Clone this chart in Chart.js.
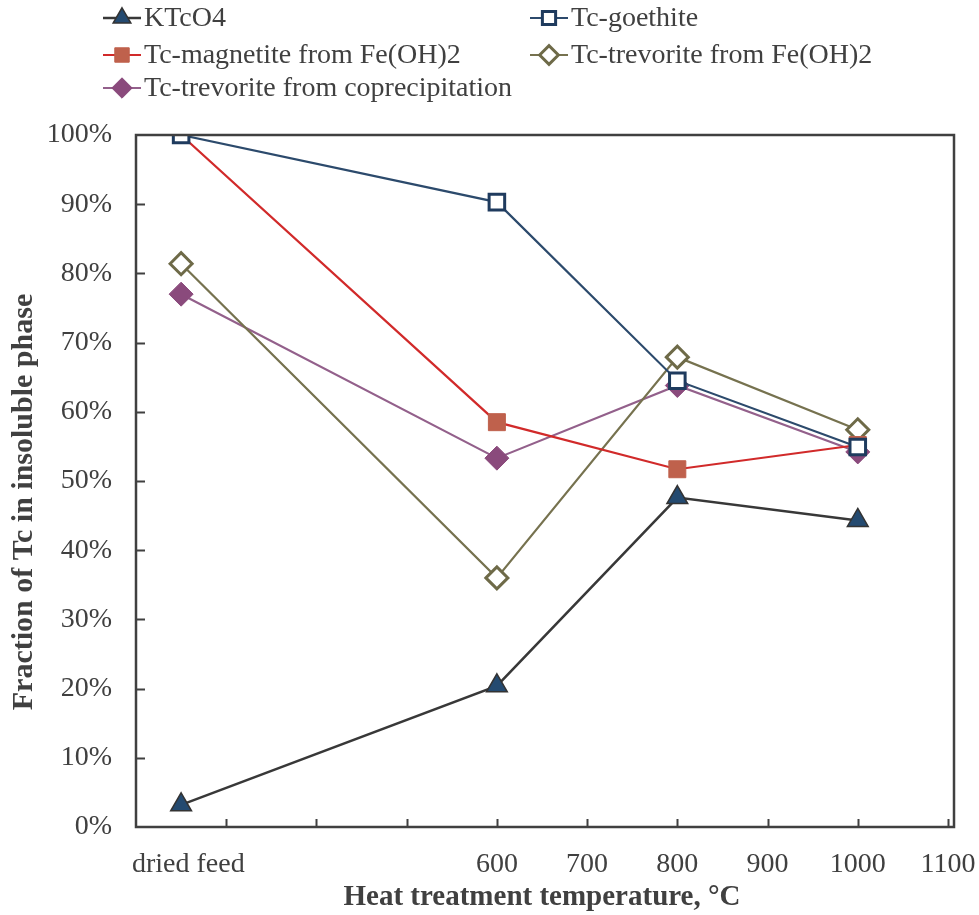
<!DOCTYPE html>
<html>
<head>
<meta charset="utf-8">
<script src="https://cdn.jsdelivr.net/npm/chart.js@4.4.1/dist/chart.umd.min.js"></script>
<style>
	html, body { margin: 0; padding: 0; background: #fff; }
	#wrap { width: 979px; height: 915px; }
</style>
</head>
<body>
<div id="wrap"><canvas id="myChart"></canvas></div>
<script>
// temperatures, 250 stands for the "dried feed" sample
const temps = [250, 600, 800, 1000];
const ktco4 = [3.2, 20.4, 47.6, 44.3];
const goethite = [100, 90.3, 64.5, 54.9];
const magnetite = [100, 58.5, 51.7, 55.2];
const trevoriteFeOH2 = [81.4, 36.0, 67.9, 57.4];
const trevoriteCopre = [77.0, 53.3, 63.8, 54.2];

const seriesNames = ["KTcO4", "Tc-goethite", "Tc-magnetite from Fe(OH)2",
	"Tc-trevorite from Fe(OH)2", "Tc-trevorite from coprecipitation"];

const xLabelValues = [258, 600, 700, 800, 900, 1000, 1100];
const xLabelText = ["dried feed", "600", "700", "800", "900", "1000", "1100"];
const xTickMarks = [300, 400, 500, 600, 700, 800, 900, 1000, 1100];
const yTicks = [0, 10, 20, 30, 40, 50, 60, 70, 80, 90, 100];
const yTitle = "Fraction of Tc in insoluble phase";

const textColor = "#404040";
const axisColor = "#404040";
const serif = "'Liberation Serif', 'Times New Roman', serif";

function pts(values) {
	return values.map((v, i) => ({ x: temps[i], y: v }));
}

// frame around plot, inward tick marks and the y title
const framePlugin = {
	id: "frame",
	afterDraw(chart) {
		const ctx = chart.ctx;
		const a = chart.chartArea;
		const xs = chart.scales.x;
		const ys = chart.scales.y;
		ctx.save();
		ctx.strokeStyle = axisColor;
		ctx.lineWidth = 2.5;
		ctx.strokeRect(a.left, a.top, a.right - a.left + 6, a.bottom - a.top);
		ctx.lineWidth = 2;
		ctx.beginPath();
		xTickMarks.forEach(t => {
			const px = Math.round(xs.getPixelForValue(t)) + 0.5;
			ctx.moveTo(px, a.bottom);
			ctx.lineTo(px, a.bottom - 8);
		});
		yTicks.forEach(t => {
			if (t === 0 || t === 100) return;
			const py = Math.round(ys.getPixelForValue(t)) + 0.5;
			ctx.moveTo(a.left, py);
			ctx.lineTo(a.left + 9, py);
		});
		ctx.stroke();

		ctx.translate(24, (a.top + a.bottom) / 2 + 21);
		ctx.rotate(-Math.PI / 2);
		ctx.fillStyle = textColor;
		ctx.font = "bold 30px " + serif;
		ctx.textAlign = "center";
		ctx.textBaseline = "middle";
		ctx.fillText(yTitle, 0, 0);
		ctx.restore();
	}
};

// two column legend at top
const legendPlugin = {
	id: "gridLegend",
	afterDraw(chart) {
		const ctx = chart.ctx;
		const cols = [103, 530];
		const rows = [18, 55, 88];
		ctx.save();
		chart.data.datasets.forEach((ds, i) => {
			const x = cols[i % 2];
			const y = rows[Math.floor(i / 2)];
			ctx.strokeStyle = ds.borderColor;
			ctx.lineWidth = ds.borderWidth;
			ctx.beginPath();
			ctx.moveTo(x, y);
			ctx.lineTo(x + 38, y);
			ctx.stroke();
			ctx.fillStyle = ds.pointBackgroundColor;
			ctx.strokeStyle = ds.pointBorderColor;
			ctx.lineWidth = ds.pointBorderWidth;
			Chart.helpers.drawPoint(ctx, {
				pointStyle: ds.pointStyle,
				radius: ds.pointRadius * 0.85,
				borderWidth: ds.pointBorderWidth
			}, x + 19, y);
			ctx.fillStyle = textColor;
			ctx.font = "28px " + serif;
			ctx.textBaseline = "middle";
			ctx.textAlign = "left";
			ctx.fillText(ds.label, x + 41, y + 1);
		});
		ctx.restore();
	}
};

new Chart("myChart", {
	type: "line",
	data: {
		datasets: [{
			label: seriesNames[0],
			data: pts(ktco4),
			borderColor: "#383838",
			borderWidth: 2.5,
			pointStyle: "triangle",
			pointRadius: 12,
			pointBackgroundColor: "#244a70",
			pointBorderColor: "#333333",
			pointBorderWidth: 1.5
		}, {
			label: seriesNames[1],
			data: pts(goethite),
			borderColor: "#2c4a6c",
			borderWidth: 2.2,
			pointStyle: "rect",
			pointRadius: 11,
			pointBackgroundColor: "#ffffff",
			pointBorderColor: "#1f3b5e",
			pointBorderWidth: 3
		}, {
			label: seriesNames[2],
			data: pts(magnetite),
			borderColor: "#d12a2a",
			borderWidth: 2.2,
			pointStyle: "rect",
			pointRadius: 12,
			pointBackgroundColor: "#bf614c",
			pointBorderColor: "#bf614c",
			pointBorderWidth: 1
		}, {
			label: seriesNames[3],
			data: pts(trevoriteFeOH2),
			borderColor: "#76724f",
			borderWidth: 2.2,
			pointStyle: "rectRot",
			pointRadius: 11,
			pointBackgroundColor: "#ffffff",
			pointBorderColor: "#6e6a48",
			pointBorderWidth: 3
		}, {
			label: seriesNames[4],
			data: pts(trevoriteCopre),
			borderColor: "#93608b",
			borderWidth: 2.2,
			pointStyle: "rectRot",
			pointRadius: 12,
			pointBackgroundColor: "#8a4a7c",
			pointBorderColor: "#8a4a7c",
			pointBorderWidth: 1
		}]
	},
	options: {
		responsive: true,
		maintainAspectRatio: false,
		animation: false,
		layout: { padding: { top: 135, right: 31, left: 0, bottom: 0 } },
		plugins: {
			legend: { display: false },
			tooltip: { enabled: false }
		},
		scales: {
			x: {
				type: "linear",
				min: 200,
				max: 1100,
				border: { display: false },
				grid: { display: false, drawTicks: false },
				afterBuildTicks: axis => { axis.ticks = xLabelValues.map(v => ({ value: v })); },
				afterFit: axis => {
					axis.height = 88;
					axis.paddingLeft = 0;
					axis.paddingRight = 0;
				},
				ticks: {
					autoSkip: false,
					maxRotation: 0,
					padding: 21,
					color: textColor,
					font: { family: serif, size: 28 },
					callback: (v) => xLabelText[xLabelValues.indexOf(v)]
				},
				title: {
					display: true,
					text: "Heat treatment temperature, °C",
					color: textColor,
					font: { family: serif, size: 29, weight: "bold" },
					padding: { top: 0, bottom: 0 }
				}
			},
			y: {
				min: 0,
				max: 100,
				border: { display: false },
				grid: { display: false, drawTicks: false },
				afterBuildTicks: axis => { axis.ticks = yTicks.map(v => ({ value: v })); },
				afterFit: axis => {
					axis.width = 136;
					axis.paddingTop = 0;
					axis.paddingBottom = 0;
				},
				ticks: {
					padding: 24,
					color: textColor,
					font: { family: serif, size: 28 },
					callback: v => v + "%"
				}
			}
		}
	},
	plugins: [framePlugin, legendPlugin]
});
</script>
</body>
</html>
